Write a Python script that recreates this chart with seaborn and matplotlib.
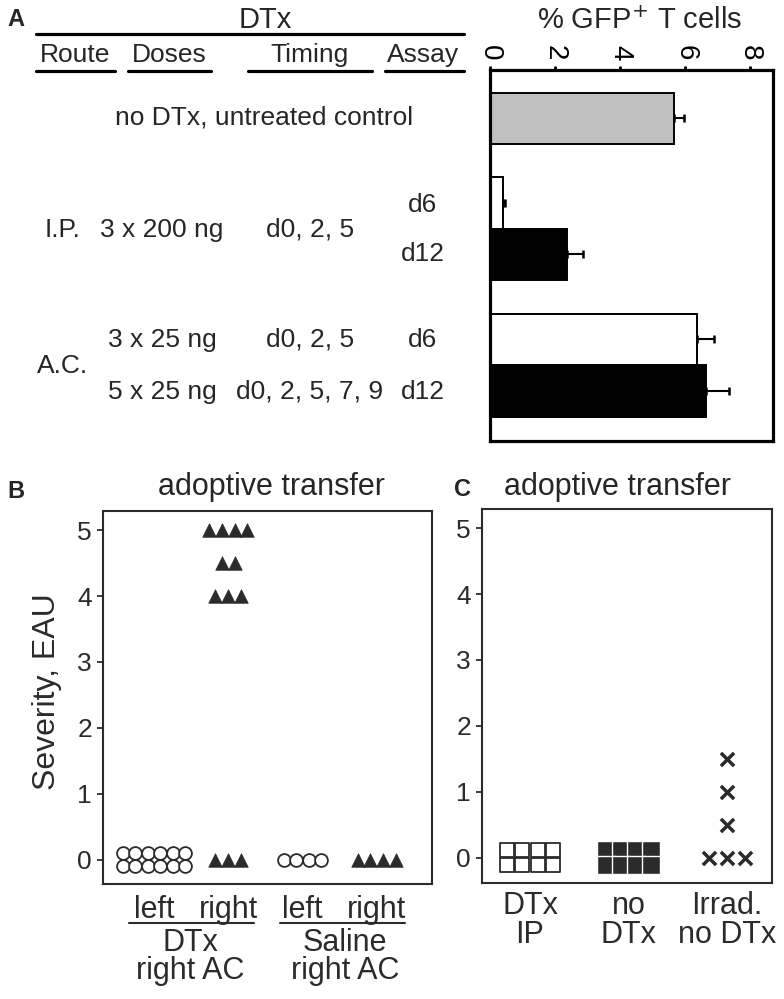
import numpy as np
import pandas as pd
import matplotlib
matplotlib.use("Agg")
import matplotlib.pyplot as plt
import seaborn as sns

# ---- panel A: % GFP+ T cells ----
a_groups = ['control', 'IP d6', 'IP d12', 'AC d6', 'AC d12']
a_gfp = [5.65, 0.40, 2.38, 6.36, 6.64]
a_err = [0.31, 0.06, 0.49, 0.52, 0.71]
a_ticks = [0, 2, 4, 6, 8]

# ---- panel B: severity per eye ----
b_labels = ['left', 'right', 'left', 'right']
dtx_left = [0, 0, 0, 0, 0, 0, 0, 0, 0, 0, 0, 0]
dtx_right = [5, 5, 5, 5, 4.5, 4.5, 4, 4, 4, 0, 0, 0]
saline_left = [0, 0, 0, 0]
saline_right = [0, 0, 0, 0]

# ---- panel C: severity ----
c_labels = ['DTx\nIP', 'no\nDTx', 'Irrad.\nno DTx']
dtx_ip = [0, 0, 0, 0, 0, 0, 0, 0]
no_dtx = [0, 0, 0, 0, 0, 0, 0, 0]
irrad_no_dtx = [1.5, 1, 0.5, 0, 0, 0]
sev_ticks = [0, 1, 2, 3, 4, 5]

W, H = 784, 999
sns.set_theme(style='white')
plt.rcParams['font.family'] = ['Liberation Sans', 'DejaVu Sans']
DARK = '#2b2b2b'


def px_axes(fig, left, top, right, bottom):
    return fig.add_axes([left / W, 1 - bottom / H, (right - left) / W, (bottom - top) / H])


def stack(values, per_row, dx, dy):
    # dot-plot layout: equal values side by side, wrapped into rows
    vals = np.array(values, float)
    xs, ys = [], []
    for v in np.unique(vals)[::-1]:
        n = int((vals == v).sum())
        rows = int(np.ceil(n / per_row))
        for r in range(rows):
            m = min(per_row, n - r * per_row)
            for i in range(m):
                xs.append((i - (m - 1) / 2) * dx)
                ys.append(v + ((rows - 1) / 2 - r) * dy)
    return xs, ys


def dot_frame(groups, per_row, dx, dy):
    parts = []
    for k, vals in enumerate(groups):
        xs, ys = stack(vals, per_row[k], dx[k], dy)
        parts.append(pd.DataFrame({'grp': k, 'x': np.array(xs) + k, 'y': ys}))
    return pd.concat(parts, ignore_index=True)


fig = plt.figure(figsize=(W / 100, H / 100), dpi=100)

# overlay for table text, headers and brackets (pixel coords)
ov = fig.add_axes([0, 0, 1, 1])
ov.set_xlim(0, W)
ov.set_ylim(H, 0)
ov.axis('off')

# ---------------- panel A ----------------
ax_a = px_axes(fig, 490, 70, 773, 441)
a_slot = [0.0, 1.64, 2.64, 4.29, 5.29]
df_a = pd.DataFrame({'group': a_groups, 'gfp': a_gfp, 'slot': a_slot})
pal_a = dict(zip(a_groups, ['#c0c0c0', 'white', 'black', 'white', 'black']))
sns.barplot(data=df_a, x='gfp', y='slot', hue='group', palette=pal_a, orient='y',
            native_scale=True, width=1.0, dodge=False, saturation=1, legend=False,
            edgecolor='black', linewidth=1.4, errorbar=None, ax=ax_a)
ax_a.errorbar(a_gfp, a_slot, xerr=[np.zeros(len(a_err)), a_err], fmt='none',
              ecolor='black', elinewidth=1.5, capsize=3, capthick=1.8, zorder=1)
ax_a.set_xlim(0, 8.7)
ax_a.set_ylim(6.26, -0.94)
ax_a.xaxis.tick_top()
ax_a.set_xticks(a_ticks)
ax_a.set_xticklabels([str(t) for t in a_ticks], rotation=-90, fontsize=20, color='black')
ax_a.tick_params(axis='x', top=True, bottom=False, length=3, width=2, pad=4, color='black')
ax_a.set_yticks([])
ax_a.set_xlabel('')
ax_a.set_ylabel('')
for s in ax_a.spines.values():
    s.set_color('black')
    s.set_linewidth(2.3)

ov.text(640, 21, '% GFP$^{+}$ T cells', fontsize=21, ha='center', va='center')
ov.text(16, 19, 'A', fontsize=17, fontweight='bold', ha='center', va='center')
ov.text(265, 20, 'DTx', fontsize=21, ha='center', va='center')
ov.plot([36, 464], [34, 34], color='black', lw=2.3)
for name, cx, x0, x1 in [('Route', 75, 36, 115), ('Doses', 169, 128, 211),
                         ('Timing', 310, 248, 372), ('Assay', 423, 385, 464)]:
    ov.text(cx, 55, name, fontsize=19, ha='center', va='center')
    ov.plot([x0, x1], [71, 71], color='black', lw=2.3)

table_cells = [('no DTx, untreated control', 264, 118),
               ('I.P.', 63, 230), ('3 x 200 ng', 162, 230), ('d0, 2, 5', 310, 230),
               ('d6', 423, 205), ('d12', 423, 254),
               ('A.C.', 63, 366), ('3 x 25 ng', 162, 340), ('d0, 2, 5', 310, 340),
               ('d6', 423, 340), ('5 x 25 ng', 162, 392), ('d0, 2, 5, 7, 9', 310, 392),
               ('d12', 423, 392)]
for txt, cx, cy in table_cells:
    ov.text(cx, cy, txt, fontsize=19, ha='center', va='center')

# ---------------- panel B ----------------
ax_b = px_axes(fig, 103, 511, 432, 884)
df_b = dot_frame([dtx_left, dtx_right, saline_left, saline_right],
                 per_row=[6, 4, 6, 4], dx=[0.168, 0.172, 0.168, 0.172], dy=0.197)
circ = df_b[df_b.grp.isin([0, 2])]
tri = df_b[df_b.grp.isin([1, 3])]
sns.scatterplot(data=circ, x='x', y='y', marker='o', s=85, facecolor='white',
                edgecolor=DARK, linewidth=1.3, ax=ax_b, zorder=3)
sns.scatterplot(data=tri, x='x', y='y', marker='^', s=95, color=DARK,
                edgecolor=DARK, linewidth=0.5, ax=ax_b, zorder=3)
ax_b.set_xlim(-0.686, 3.742)
ax_b.set_ylim(-0.364, 5.288)
ax_b.set_xticks(range(4))
ax_b.set_xticklabels(b_labels, fontsize=22, color=DARK)
ax_b.set_yticks(sev_ticks)
ax_b.set_yticklabels([str(t) for t in sev_ticks], fontsize=19, color=DARK)
ax_b.tick_params(axis='x', length=0, pad=8)
ax_b.tick_params(axis='y', left=True, length=4, width=1.3, color=DARK, pad=4)
ax_b.set_xlabel('')
ax_b.set_ylabel('')
for s in ax_b.spines.values():
    s.set_color(DARK)
    s.set_linewidth(1.5)

ov.text(16, 492, 'B', fontsize=17, fontweight='bold', ha='center', va='center')
ov.text(272, 487, 'adoptive transfer', fontsize=22, ha='center', va='center')
ov.text(47, 692, 'Severity, EAU', fontsize=23, rotation=90, ha='center', va='center', color=DARK)
for x0, x1, cx, lab in [(129, 254, 190, 'DTx\nright AC'), (280, 405, 345, 'Saline\nright AC')]:
    ov.plot([x0, x1], [923, 923], color=DARK, lw=1.5)
    ov.text(cx, 957, lab, fontsize=22, ha='center', va='center', color=DARK, linespacing=0.95)

# ---------------- panel C ----------------
ax_c = px_axes(fig, 482, 509, 772, 883)
df_c = dot_frame([dtx_ip, no_dtx, irrad_no_dtx],
                 per_row=[4, 4, 3], dx=[0.155, 0.155, 0.186], dy=0.227)
sns.scatterplot(data=df_c[df_c.grp == 0], x='x', y='y', marker='s', s=88,
                facecolor='white', edgecolor=DARK, linewidth=1.3, ax=ax_c, zorder=3)
sns.scatterplot(data=df_c[df_c.grp == 1], x='x', y='y', marker='s', s=175,
                color=DARK, edgecolor='white', linewidth=1.0, ax=ax_c, zorder=3)
sns.scatterplot(data=df_c[df_c.grp == 2], x='x', y='y', marker='x', s=90,
                color=DARK, linewidth=2.5, ax=ax_c, zorder=3)
ax_c.set_xlim(-0.487, 2.457)
ax_c.set_ylim(-0.379, 5.288)
ax_c.set_xticks(range(3))
ax_c.set_xticklabels(c_labels, fontsize=22, color=DARK)
plt.setp(ax_c.get_xticklabels(), linespacing=0.95)
ax_c.set_yticks(sev_ticks)
ax_c.set_yticklabels([str(t) for t in sev_ticks], fontsize=19, color=DARK)
ax_c.tick_params(axis='x', length=0, pad=6)
ax_c.tick_params(axis='y', left=True, length=4, width=1.3, color=DARK, pad=4)
ax_c.set_xlabel('')
ax_c.set_ylabel('')
for s in ax_c.spines.values():
    s.set_color(DARK)
    s.set_linewidth(1.5)

ov.text(463, 490, 'C', fontsize=17, fontweight='bold', ha='center', va='center')
ov.text(618, 487, 'adoptive transfer', fontsize=22, ha='center', va='center')

fig.savefig('out.png', dpi=100)
